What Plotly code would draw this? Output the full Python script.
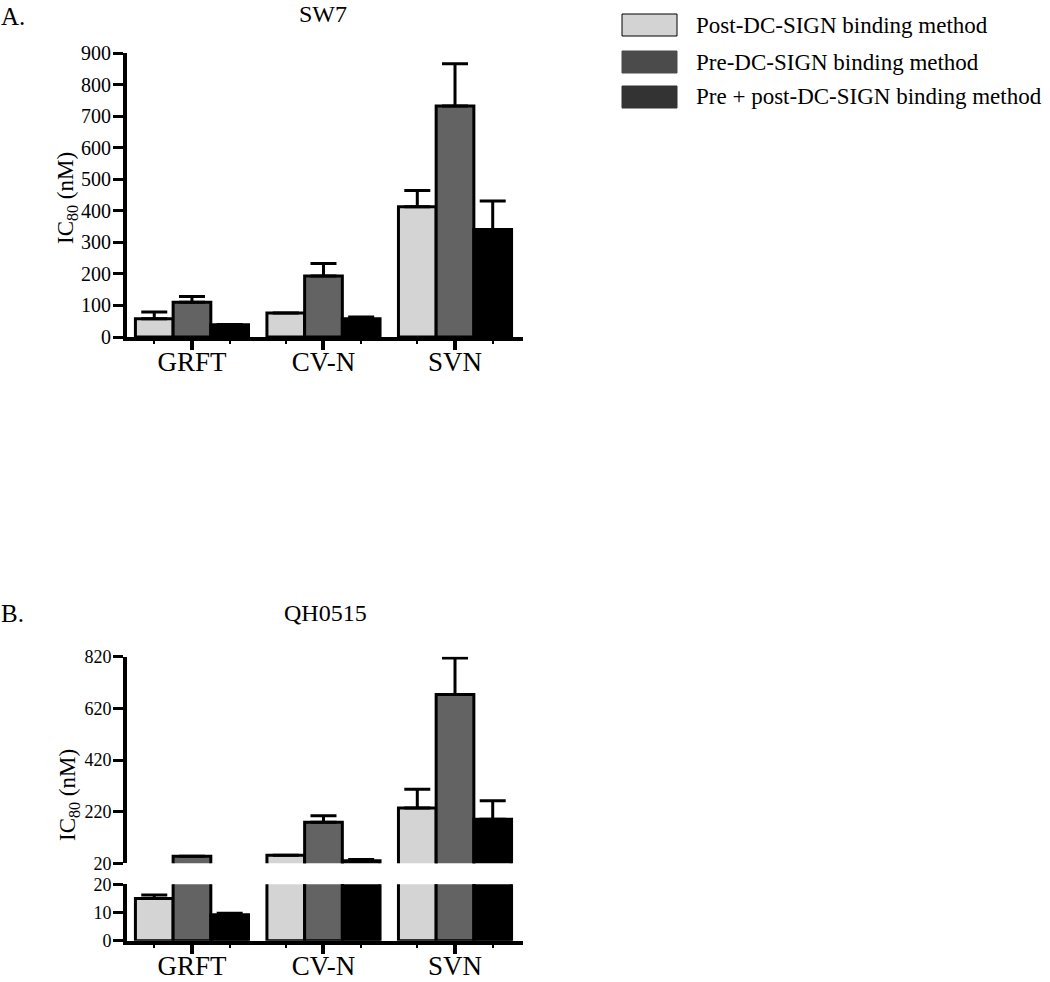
import plotly.graph_objects as go

# ---------------- data ----------------
categories = ["GRFT", "CV-N", "SVN"]
series_names = ["Post-DC-SIGN binding method",
                "Pre-DC-SIGN binding method",
                "Pre + post-DC-SIGN binding method"]

# Panel A: SW7
post_A = [58, 76, 413]
pre_A = [110, 193, 732]
prepost_A = [39, 58, 341]
post_A_err = [21, 0, 51]
pre_A_err = [18, 40, 134]
prepost_A_err = [1, 5, 90]

# Panel B: QH0515
post_B = [15, 51, 234]
pre_B = [47, 179, 674]
prepost_B = [9.2, 30, 191]
post_B_err = [1.2, 0, 73]
pre_B_err = [0, 25, 141]
prepost_B_err = [0.5, 5, 71]

ticks_A = [0, 100, 200, 300, 400, 500, 600, 700, 800, 900]
ticks_B_top = [20, 220, 420, 620, 820]
ticks_B_bot = [0, 10, 20]
B_break = 20

bar_colors = ["#d4d4d4", "#636363", "#000000"]
legend_colors = ["#d3d3d3", "#4b4b4b", "#333333"]

W, H = 1050, 982
FONT = "Liberation Serif"


def px(x):
    return x / W


def py(y):
    return 1 - y / H


BARGAP = 0.14
nser = 3
bw = (1 - BARGAP) / nser
bar_centers = [i + (k - 1) * bw for i in range(len(categories)) for k in range(nser)]

fig = go.Figure()


def add_bars(vals, errs, xa, ya, vmin=None):
    for k in range(nser):
        v = list(vals[k])
        e = list(errs[k])
        if vmin is not None:
            v = [a if a > vmin else None for a in v]
            e = [b if a is not None else 0 for a, b in zip(v, e)]
        fig.add_trace(go.Bar(
            x=list(range(len(categories))), y=v, name=series_names[k],
            xaxis=xa, yaxis=ya, showlegend=False,
            marker=dict(color=bar_colors[k], line=dict(color="black", width=3)),
            error_y=dict(type="data", symmetric=False, array=e,
                         arrayminus=[0] * len(categories),
                         color="black", thickness=3, width=13),
        ))


add_bars([post_A, pre_A, prepost_A], [post_A_err, pre_A_err, prepost_A_err], "x", "y")
add_bars([post_B, pre_B, prepost_B], [post_B_err, pre_B_err, prepost_B_err], "x2", "y2")
add_bars([post_B, pre_B, prepost_B], [post_B_err, pre_B_err, prepost_B_err], "x3", "y3",
         vmin=B_break)

xr = [-0.494, 2.517]
xdom = [px(127), px(523)]

common_x = dict(range=xr, domain=xdom, showgrid=False, zeroline=False, automargin=False,
                tickmode="array", tickvals=[0, 1, 2], ticktext=categories,
                ticklabelstandoff=-11,
                tickfont=dict(family=FONT, size=27, color="black"))
axis_line = dict(showline=True, linewidth=4, linecolor="black")


def ycommon(size):
    return dict(showgrid=False, zeroline=False, ticks="outside", ticklen=10,
                tickwidth=3, tickcolor="black", automargin=False,
                ticklabelstandoff=-2,
                tickfont=dict(family=FONT, size=size, color="black"),
                **axis_line)


minor = dict(tickmode="array", tickvals=bar_centers, ticks="outside",
             ticklen=3, tickwidth=2, tickcolor="black")

fig.update_layout(
    width=W, height=H, autosize=False,
    margin=dict(l=0, r=0, t=0, b=0, pad=0),
    paper_bgcolor="white", plot_bgcolor="white",
    barmode="group", bargap=BARGAP, bargroupgap=0,
    showlegend=False,
    xaxis=dict(**common_x, **axis_line, anchor="y", ticks="outside", ticklen=9,
               tickwidth=4, tickcolor="black", minor=minor),
    yaxis=dict(**ycommon(20), range=[0, 900], tickvals=ticks_A,
               domain=[py(337), py(53)], anchor="x"),
    xaxis2=dict(**common_x, **axis_line, anchor="y2", ticks="outside", ticklen=9,
                tickwidth=4, tickcolor="black", minor=minor),
    yaxis2=dict(**ycommon(18), range=[0, B_break], tickvals=ticks_B_bot,
                domain=[py(940.7), py(884.3)], anchor="x2"),
    xaxis3=dict(range=xr, domain=xdom, visible=False, anchor="y3", matches="x2",
                automargin=False),
    yaxis3=dict(**ycommon(18), range=[B_break, 820], tickvals=ticks_B_top,
                domain=[py(863.3), py(656.7)], anchor="x3"),
)

ann = []


def text(x, y, s, size, xanchor="center", angle=0, yanchor="middle"):
    ann.append(dict(x=px(x), y=py(y), xref="paper", yref="paper", text=s,
                    showarrow=False, xanchor=xanchor, yanchor=yanchor,
                    textangle=angle, borderpad=0,
                    font=dict(family=FONT, size=size, color="black")))


text(0, 16, "A.", 25, "left")
text(323, 0, "SW7", 24, yanchor="top")
text(0, 613, "B.", 25, "left")
text(325, 613, "QH0515", 24)
text(67, 198, "IC<sub>80</sub> (nM)", 23, angle=-90)
text(69, 795, "IC<sub>80</sub> (nM)", 23, angle=-90)

# legend
shapes = []
leg_y = [25, 62, 97]
for k in range(nser):
    shapes.append(dict(type="rect", xref="paper", yref="paper",
                       x0=px(622), x1=px(677), y0=py(leg_y[k] + 11), y1=py(leg_y[k] - 11),
                       fillcolor=legend_colors[k],
                       line=dict(color="black" if k == 0 else legend_colors[k], width=1)))
    text(695, leg_y[k], series_names[k], 23, "left")

fig.update_layout(annotations=ann, shapes=shapes)
fig.write_html("out.html", config={"displayModeBar": False},
               post_script="document.body.style.margin='0';"
                           "document.body.style.overflow='hidden';")
